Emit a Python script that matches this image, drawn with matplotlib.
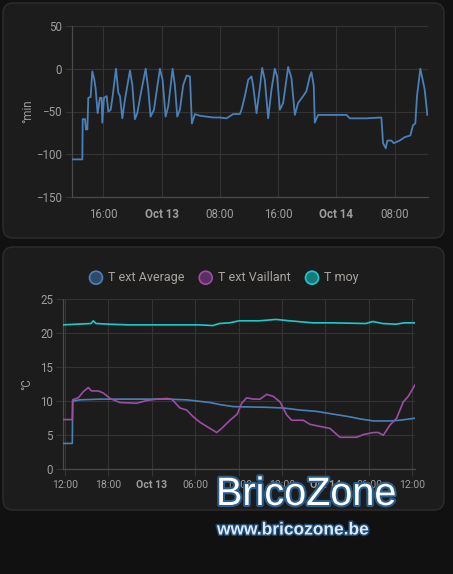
import matplotlib
matplotlib.use("Agg")
import matplotlib.pyplot as plt
from matplotlib.patches import FancyBboxPatch, Ellipse
import matplotlib.patheffects as pe

plt.rcParams['font.family'] = ['Roboto', 'DejaVu Sans']

# ---------------- data (hours since Oct 12 00:00) ----------------
top_t = [11.66, 13.12, 13.17, 13.49, 13.62, 13.81, 13.94, 14.26, 14.49, 14.77, 14.95,
         15.22, 15.54, 15.77, 15.86, 16.09, 16.46, 16.69, 17.01, 17.28, 17.74, 18.06,
         18.29, 18.61, 18.97, 19.66, 19.98, 20.34, 20.66, 21.17, 21.81, 22.17, 22.49,
         22.95, 23.77, 24.14, 24.55, 24.91, 25.51, 25.83, 26.15, 26.51, 26.97, 27.43,
         27.89, 28.16, 28.57, 29.26, 30.17, 31.09, 32.0, 32.91, 33.83, 34.74, 34.97,
         35.43, 35.89, 36.34, 36.57, 37.03, 37.49, 37.81, 38.17, 38.63, 39.09, 39.54,
         39.86, 40.23, 40.69, 41.37, 41.83, 42.29, 42.74, 43.43, 43.89, 44.34, 44.57,
         44.89, 45.03, 45.49, 46.17, 49.37, 49.83, 52.11, 54.17, 54.4, 54.77, 54.99,
         55.54, 55.86, 56.69, 57.37, 58.15, 58.51, 58.83, 59.06, 59.52, 59.79, 60.11,
         60.48]
top_v = [-106, -106, -59, -59, -71, -71, -34, -33, -3, -13, -24,
         -52, -34, -34, -63, -34, -32, -50, -48, -32, 0, -28,
         -32, -58, -36, -2, -19, -59, -52, -28, 0, -24, -56,
         -48, 0, -13, -56, -44, 0, -20, -56, -48, -19, -8,
         -9, -64, -53, -55, -56, -57, -57, -58, -53, -53, -48,
         -32, -13, -9, -20, -52, -22, 1, -13, -58, -24, 0,
         -9, -48, -40, 2, -11, -54, -40, -32, -26, -9, -4,
         -20, -63, -54, -54, -54, -58, -58, -57, -87, -93, -84,
         -84, -87, -84, -80, -78, -66, -64, -32, 0, -11, -24,
         -54]

moy_t = [11.68, 13.52, 15.59, 15.91, 16.29, 18.13, 20.89, 25.96, 30.57, 32.41, 33.33,
         34.71, 36.09, 38.86, 41.16, 43.00, 46.23, 48.99, 53.60, 54.52, 55.90, 57.74,
         58.89, 60.37]
moy_v = [21.2, 21.3, 21.4, 21.8, 21.4, 21.3, 21.2, 21.2, 21.2, 21.1, 21.4,
         21.5, 21.8, 21.8, 22.0, 21.8, 21.5, 21.5, 21.4, 21.7, 21.4, 21.3,
         21.5, 21.5]

avg_t = [11.68, 13.01, 13.06, 14.07, 16.84, 18.22, 26.05, 28.81, 32.04, 33.42, 35.26,
         39.87, 42.17, 44.47, 46.78, 49.08, 51.38, 52.76, 54.61, 56.91, 58.29, 60.37]
avg_v = [3.8, 3.8, 10.0, 10.2, 10.3, 10.3, 10.3, 10.2, 9.8, 9.5, 9.2,
         9.1, 9.0, 8.7, 8.5, 8.1, 7.7, 7.4, 7.1, 7.1, 7.2, 7.5]

vai_t = [11.68, 13.01, 13.06, 13.84, 14.53, 15.22, 15.68, 16.61, 17.30, 18.22, 19.60,
         21.90, 23.29, 24.67, 26.05, 26.74, 27.89, 28.81, 29.73, 30.66, 31.58, 32.96,
         33.65, 34.80, 35.80, 36.41, 37.10, 38.03, 38.95, 39.87, 40.79, 41.71, 42.63,
         43.32, 44.93, 45.86, 47.24, 48.62, 50.00, 52.30, 53.23, 54.61, 55.30, 55.99,
         56.91, 57.83, 58.75, 59.44, 60.37]
vai_v = [7.3, 7.3, 10.2, 10.5, 11.4, 12.0, 11.5, 11.5, 11.2, 10.4, 9.8,
         9.7, 10.1, 10.3, 10.4, 10.3, 9.0, 8.7, 7.7, 6.9, 6.3, 5.4,
         6.0, 7.2, 8.1, 9.7, 10.5, 10.3, 10.3, 11.0, 10.7, 9.9, 8.0,
         7.2, 7.2, 6.6, 6.3, 6.0, 4.7, 4.7, 5.1, 5.4, 5.4, 5.0,
         6.5, 7.5, 9.9, 10.7, 12.4]

top_ticks = [16, 24, 32, 40, 48, 56]
top_labels = ['16:00', 'Oct 13', '08:00', '16:00', 'Oct 14', '08:00']
bot_ticks = [12, 18, 24, 30, 36, 42, 48, 54, 60]
bot_labels = ['12:00', '18:00', 'Oct 13', '06:00', '12:00', '18:00', 'Oct 14', '06:00', '12:00']
series_names = ['T ext Average', 'T ext Vaillant', 'T moy']

# ---------------- style ----------------
BG = '#111111'
CARD = '#1c1c1c'
BORDER = '#2e2e2e'
GRID = '#343434'
TICK = '#9e9e9e'
C_AVG = '#4a80b8'
C_VAI = '#9b4ea3'
C_MOY = '#1ec9cc'

W, H = 453, 574
fig = plt.figure(figsize=(W / 100, H / 100), dpi=100, facecolor=BG)


def card(x0, y0, x1, y1):
    p = FancyBboxPatch((x0 / W, 1 - y1 / H), (x1 - x0) / W, (y1 - y0) / H,
                       boxstyle='round,pad=0,rounding_size=0.022',
                       transform=fig.transFigure, facecolor=CARD,
                       edgecolor=BORDER, linewidth=1.0, zorder=-5,
                       mutation_aspect=W / H)
    fig.patches.append(p)


card(3, 3, 444, 238)
card(3, 247, 444, 510)


def style_axes(ax, ticks, labels, bold_idx, fs):
    ax.set_facecolor('none')
    for s in ['top', 'right']:
        ax.spines[s].set_visible(False)
    for s in ['left', 'bottom']:
        ax.spines[s].set_color('#4a4a4a')
        ax.spines[s].set_linewidth(0.9)
    ax.grid(True, color=GRID, linewidth=0.8)
    ax.set_axisbelow(True)
    ax.set_xticks(ticks)
    ax.set_xticklabels(labels)
    for i, lab in enumerate(ax.get_xticklabels()):
        lab.set_color(TICK)
        lab.set_fontsize(fs)
        if i in bold_idx:
            lab.set_fontweight('bold')
    for lab in ax.get_yticklabels():
        lab.set_color(TICK)
        lab.set_fontsize(8.3)
    ax.tick_params(axis='both', colors=GRID, length=5, width=0.8)
    ax.tick_params(axis='x', labelcolor=TICK, pad=3)
    ax.tick_params(axis='y', labelcolor=TICK, pad=2)


# ---------------- top chart ----------------
ax1 = fig.add_axes([71.7 / W, 1 - 197 / H, (428 - 71.7) / W, (197 - 26) / H])
ax1.plot(top_t, top_v, color=C_AVG, linewidth=1.3, zorder=3)
ax1.set_xlim(11.66, 60.57)
ax1.set_ylim(-150, 50)
ax1.set_yticks([-150, -100, -50, 0, 50])
style_axes(ax1, top_ticks, top_labels, [1, 4], 8.3)
ax1.tick_params(axis='x', length=0, pad=8)
ax1.set_ylabel('°min', color=TICK, fontsize=8.3, labelpad=1)

# ---------------- bottom chart ----------------
ax2 = fig.add_axes([62.7 / W, 1 - 469.3 / H, (415 - 62.7) / W, (469.3 - 299) / H])
ax2.plot(avg_t, avg_v, color=C_AVG, linewidth=1.2, zorder=3)
ax2.plot(vai_t, vai_v, color=C_VAI, linewidth=1.2, zorder=3)
ax2.plot(moy_t, moy_v, color=C_MOY, linewidth=1.2, zorder=3)
ax2.set_xlim(11.68, 60.37)
ax2.set_ylim(0, 25)
ax2.set_yticks([0, 5, 10, 15, 20, 25])
style_axes(ax2, bot_ticks, bot_labels, [2, 6], 7.6)
ax2.set_ylabel('°C', color=TICK, fontsize=8.3, labelpad=5)

# legend
leg_items = [(96, series_names[0], '#2f4a68', C_AVG),
             (205.7, series_names[1], '#5c2f62', C_VAI),
             (312, series_names[2], '#137c7c', C_MOY)]
for cx, name, fc, ec in leg_items:
    fig.patches.append(Ellipse((cx / W, 1 - 277.7 / H), 13 / W, 13 / H,
                               transform=fig.transFigure, facecolor=fc,
                               edgecolor=ec, linewidth=1.2, zorder=5))
    fig.text((cx + 12) / W, 1 - 277.7 / H, name, color='#aaa59e',
             fontsize=9, va='center', ha='left')

# watermark
fig.text(216 / W, 1 - 494 / H, 'BricoZone', color='white', fontsize=28.5,
         family=['Liberation Sans', 'DejaVu Sans'], va='center', ha='left',
         zorder=10,
         path_effects=[pe.withStroke(linewidth=3, foreground='#2a5d8c')])
fig.text(217 / W, 1 - 530 / H, 'www.bricozone.be', color='#dce9f5',
         fontsize=12.5, fontweight='bold',
         family=['Liberation Sans', 'DejaVu Sans'], va='center', ha='left',
         zorder=10,
         path_effects=[pe.withStroke(linewidth=2.2, foreground='#1f4a73')])

fig.savefig('out.png', dpi=100, facecolor=BG)
